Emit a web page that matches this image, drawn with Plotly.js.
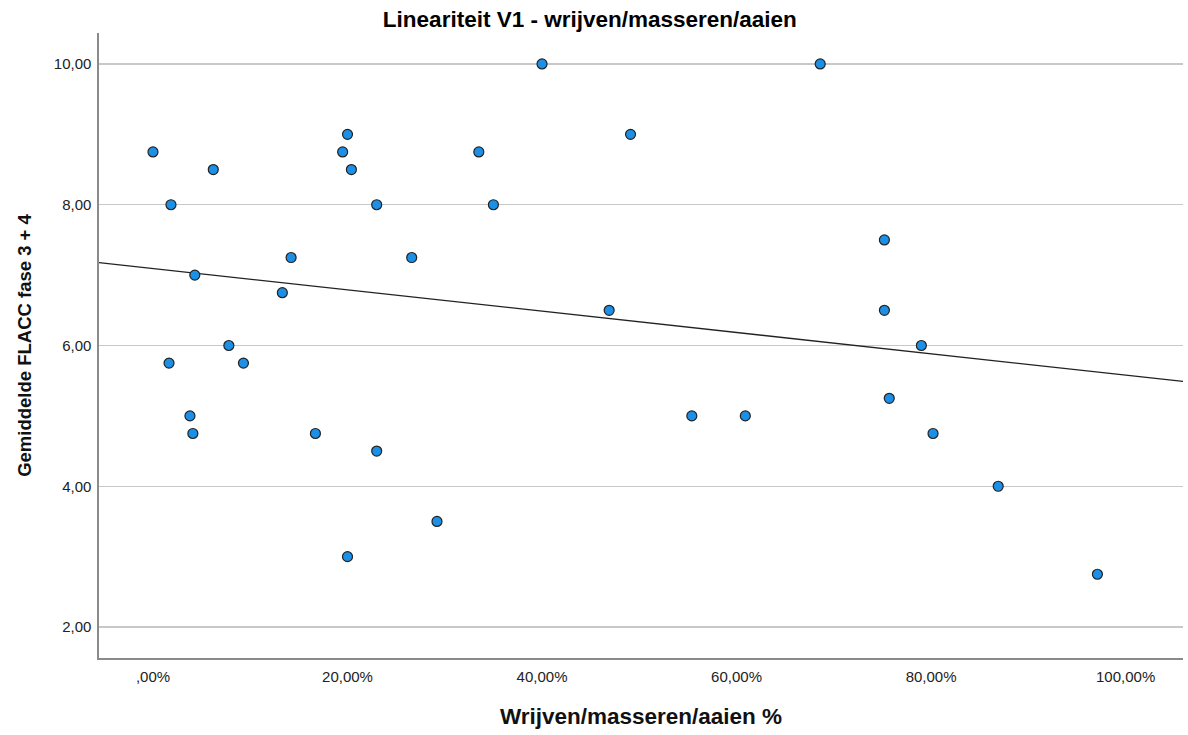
<!DOCTYPE html>
<html>
<head>
<meta charset="utf-8">
<script src="https://cdn.plot.ly/plotly-3.0.1.min.js"></script>
<style>html,body{margin:0;padding:0;background:#fff;}#chart{width:1188px;height:735px;}</style>
</head>
<body>
<div id="chart"></div>
<script>
// Data (x in %, y = mean FLACC phase 3+4)
var xPct = [0, 1.85, 1.65, 3.8, 4.1, 4.3, 6.2, 7.8, 9.3, 13.3, 14.2, 16.7, 19.5, 20.0, 20.4, 20.0, 23.0, 23.0, 26.6, 29.2, 33.5, 35.0, 40.0, 46.9, 49.1, 55.4, 60.9, 68.6, 75.2, 75.2, 75.7, 79.0, 80.2, 86.9, 97.1];
var flacc = [8.75, 8.0, 5.75, 5.0, 4.75, 7.0, 8.5, 6.0, 5.75, 6.75, 7.25, 4.75, 8.75, 9.0, 8.5, 3.0, 8.0, 4.5, 7.25, 3.5, 8.75, 8.0, 10.0, 6.5, 9.0, 5.0, 5.0, 10.0, 7.5, 6.5, 5.25, 6.0, 4.75, 4.0, 2.75];
var xTickVals = [0, 20, 40, 60, 80, 100];
var xTickText = [',00%', '20,00%', '40,00%', '60,00%', '80,00%', '100,00%'];
var yTickVals = [2, 4, 6, 8, 10];
var yTickText = ['2,00', '4,00', '6,00', '8,00', '10,00'];
var xRange = [-5.55, 105.9];
var yRange = [1.56, 10.44];

// least squares fit line
var n = xPct.length, sx = 0, sy = 0, sxx = 0, sxy = 0;
for (var i = 0; i < n; i++) { sx += xPct[i]; sy += flacc[i]; sxx += xPct[i]*xPct[i]; sxy += xPct[i]*flacc[i]; }
var slope = (n*sxy - sx*sy) / (n*sxx - sx*sx);
var icpt = (sy - slope*sx) / n;
var fitX = [xRange[0], xRange[1]];
var fitY = fitX.map(function(v){ return icpt + slope*v; });

var font = 'Liberation Sans, Arial, sans-serif';
var traces = [
  {x: fitX, y: fitY, mode: 'lines', line: {color: '#222', width: 1.3}, hoverinfo: 'skip', showlegend: false},
  {x: xPct, y: flacc, mode: 'markers', type: 'scatter',
   marker: {color: '#1c8fe6', size: 10, line: {color: '#222', width: 1.2}}, showlegend: false}
];
var layout = {
  width: 1188, height: 735,
  margin: {l: 99, r: 5, t: 33, b: 77},
  paper_bgcolor: '#fff', plot_bgcolor: '#fff',
  font: {family: font, color: '#222'},
  title: {text: 'Lineariteit V1 - wrijven/masseren/aaien', x: 0.4965, xref: 'container', y: 0.974, yref: 'container', yanchor: 'middle',
          font: {family: font, size: 22.5, color: '#000', weight: 'bold'}},
  xaxis: {range: xRange, tickvals: xTickVals, ticktext: xTickText, showgrid: false, zeroline: false,
          showline: true, linecolor: '#8a8a8a', linewidth: 1.6, ticks: '', ticklabelstandoff: 4, tickfont: {size: 15, color: '#222'},
          title: {text: 'Wrijven/masseren/aaien %', font: {size: 22.5, color: '#111', weight: 'bold'}, standoff: 24}},
  yaxis: {range: yRange, tickvals: yTickVals, ticktext: yTickText, showgrid: true, gridcolor: '#c8c8c8', gridwidth: 1.4,
          zeroline: false, showline: true, linecolor: '#8a8a8a', linewidth: 1.6, ticks: '', ticklabelstandoff: 3, tickfont: {size: 15, color: '#222'},
          title: {text: 'Gemiddelde FLACC fase 3 + 4', font: {size: 18.5, color: '#111', weight: 'bold'}, standoff: 17}}
};
Plotly.newPlot('chart', traces, layout, {displayModeBar: false, staticPlot: true});
</script>
</body>
</html>
